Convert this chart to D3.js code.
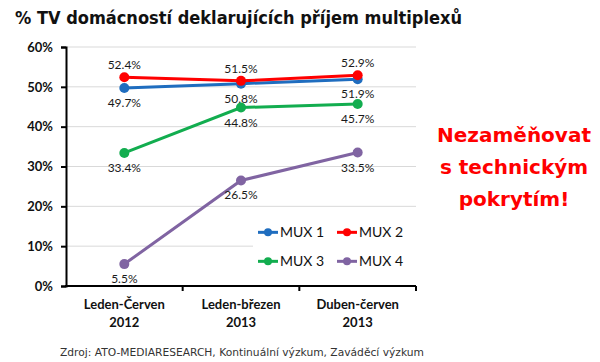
<!DOCTYPE html>
<html>
<head>
<meta charset="utf-8">
<script src="https://cdn.jsdelivr.net/npm/d3@7"></script>
<style>
  body { margin: 0; background: #fff; }
  svg { display: block; }
</style>
</head>
<body>
<div id="chart"></div>
<script>
// Data
const categories = ["Leden-Červen|2012", "Leden-březen|2013", "Duben-červen|2013"];
const mux1 = [49.7, 50.8, 51.9];
const mux2 = [52.4, 51.5, 52.9];
const mux3 = [33.4, 44.8, 45.7];
const mux4 = [5.5, 26.5, 33.5];
const yTicks = [0, 10, 20, 30, 40, 50, 60];
const seriesNames = ["MUX 1", "MUX 2", "MUX 3", "MUX 4"];

const series = [
    { name: seriesNames[0], values: mux1, color: "#1f6dbf", side: "below" },
    { name: seriesNames[1], values: mux2, color: "#ff0000", side: "above" },
    { name: seriesNames[2], values: mux3, color: "#12ad4f", side: "below" },
    { name: seriesNames[3], values: mux4, color: "#8064a2", side: "below" }
];

const W = 600, H = 362;
const margin = { top: 47, right: 184, bottom: 76, left: 66 };
const width = W - margin.left - margin.right,
    height = H - margin.top - margin.bottom;

const root = d3.select("#chart").append("svg")
    .attr("width", W)
    .attr("height", H);

// Title
root.append("text")
    .attr("x", 15)
    .attr("y", 24)
    .attr("textLength", 447)
    .attr("lengthAdjust", "spacingAndGlyphs")
    .style("font-family", "DejaVu Sans")
    .style("font-weight", "bold")
    .style("font-size", "18px")
    .attr("fill", "#111")
    .text("% TV domácností deklarujících příjem multiplexů");

const svg = root.append("g")
    .attr("transform", `translate(${margin.left},${margin.top})`);

const xScale = d3.scaleBand()
    .domain(categories)
    .range([0, width]);

const yScale = d3.scaleLinear()
    .domain([0, 60])
    .range([height, 0]);

// Gridlines
svg.append("g")
    .selectAll("line")
    .data(yTicks.filter((d) => d > 0))
    .enter()
    .append("line")
    .attr("x1", 0)
    .attr("x2", width)
    .attr("y1", (d) => yScale(d))
    .attr("y2", (d) => yScale(d))
    .attr("stroke", "#d9d9d9")
    .attr("stroke-width", 1);

// Y axis
const yAxis = svg.append("g")
    .call(d3.axisLeft(yScale).tickValues(yTicks).tickSize(5).tickPadding(8).tickFormat((d) => d + "%"));
yAxis.select(".domain").attr("stroke", "#000").attr("stroke-width", 2);
yAxis.selectAll(".tick line").attr("stroke", "#000").attr("stroke-width", 2);
yAxis.selectAll("text")
    .style("font-family", "Lato")
    .style("font-weight", "bold")
    .style("font-size", "13px")
    .attr("fill", "#111");

// X axis: ticks at category boundaries
const xAxis = svg.append("g").attr("transform", `translate(0,${height})`);
xAxis.append("line")
    .attr("x1", -1).attr("x2", width)
    .attr("stroke", "#000").attr("stroke-width", 2);
xAxis.selectAll(".xtick")
    .data(categories)
    .enter()
    .append("line")
    .attr("x1", (d) => xScale(d) + xScale.bandwidth())
    .attr("x2", (d) => xScale(d) + xScale.bandwidth())
    .attr("y1", 0).attr("y2", 5)
    .attr("stroke", "#000").attr("stroke-width", 2);
xAxis.selectAll(".xlabel")
    .data(categories)
    .enter()
    .append("text")
    .attr("text-anchor", "middle")
    .attr("x", (d) => xScale(d) + xScale.bandwidth() / 2)
    .style("font-family", "Lato")
    .style("font-weight", "bold")
    .style("font-size", "13px")
    .attr("fill", "#111")
    .each(function (d) {
        const parts = d.split("|");
        d3.select(this).append("tspan").attr("x", xScale(d) + xScale.bandwidth() / 2).attr("y", 23).text(parts[0]);
        d3.select(this).append("tspan").attr("x", xScale(d) + xScale.bandwidth() / 2).attr("y", 41).text(parts[1]);
    });

const line = d3.line()
    .x((d, i) => xScale(categories[i]) + xScale.bandwidth() / 2)
    .y((d) => yScale(d));

// Legend background (covers gridline like in the original)
const legend = svg.append("g").attr("transform", `translate(${width - 163},${yScale(20) + 9})`);
legend.append("rect")
    .attr("width", 163)
    .attr("height", 62)
    .attr("fill", "#fff");

// Lines, markers and labels
series.forEach((s) => {
    const g = svg.append("g");
    g.append("path")
        .attr("fill", "none")
        .attr("stroke", s.color)
        .attr("stroke-width", 3)
        .attr("d", line(s.values));
    g.selectAll("circle")
        .data(s.values)
        .enter()
        .append("circle")
        .attr("cx", (d, i) => xScale(categories[i]) + xScale.bandwidth() / 2)
        .attr("cy", (d) => yScale(d))
        .attr("r", 5)
        .attr("fill", s.color);
    g.selectAll(".lbl")
        .data(s.values)
        .enter()
        .append("text")
        .attr("text-anchor", "middle")
        .attr("x", (d, i) => xScale(categories[i]) + xScale.bandwidth() / 2)
        .attr("y", (d) => yScale(d) + (s.side === "above" ? -8 : 19))
        .style("font-family", "Lato")
        .style("font-size", "12px")
        .attr("fill", "#1a1a1a")
        .text((d) => d.toFixed(1) + "%");
});

// Legend items
legend.selectAll(".item")
    .data(series)
    .enter()
    .append("g")
    .attr("transform", (d, i) => `translate(${5 + (i % 2) * 79},${17 + Math.floor(i / 2) * 29})`)
    .each(function (d) {
        const item = d3.select(this);
        item.append("line")
            .attr("x1", 0).attr("x2", 20)
            .attr("stroke", d.color).attr("stroke-width", 3);
        item.append("circle").attr("cx", 10).attr("r", 4).attr("fill", d.color);
        item.append("text")
            .attr("x", 22)
            .attr("y", 5)
            .style("font-family", "Lato")
            .style("font-size", "14px")
            .attr("fill", "#111")
            .text(d.name);
    });

// Red note
const note = root.append("text")
    .attr("text-anchor", "middle")
    .style("font-family", "DejaVu Sans")
    .style("font-weight", "bold")
    .style("font-size", "20px")
    .attr("fill", "#ff0000");
["Nezaměňovat", "s technickým", "pokrytím!"].forEach((t, i) => {
    note.append("tspan").attr("x", 514).attr("y", 142 + i * 32).text(t);
});

// Source
root.append("text")
    .attr("x", 60)
    .attr("y", 356)
    .attr("textLength", 364)
    .attr("lengthAdjust", "spacingAndGlyphs")
    .style("font-family", "DejaVu Sans")
    .style("font-size", "10px")
    .attr("fill", "#333")
    .text("Zdroj: ATO-MEDIARESEARCH, Kontinuální výzkum, Zaváděcí výzkum");
</script>
</body>
</html>
